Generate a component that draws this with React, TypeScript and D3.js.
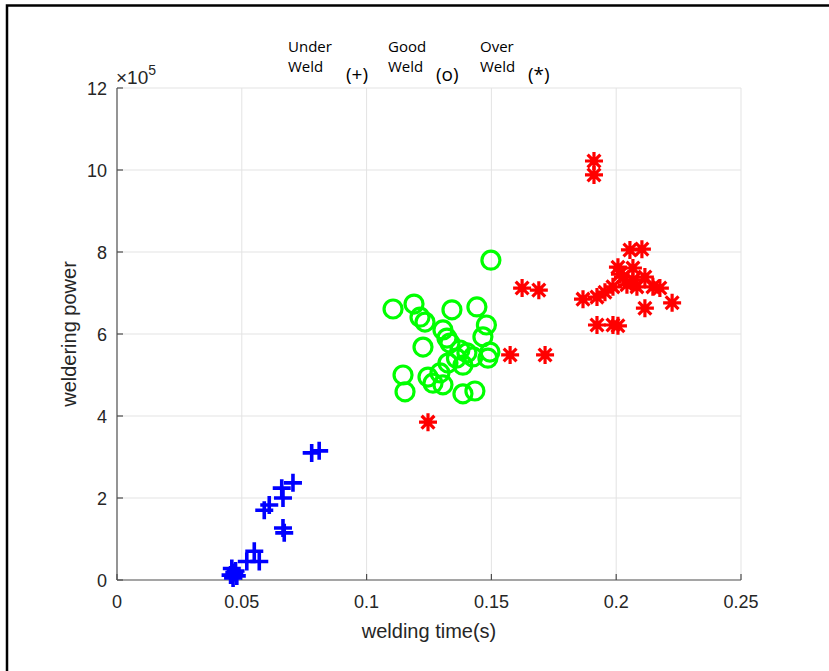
import React, { useEffect, useRef } from 'react';
import * as d3 from 'd3';

// welding time (s) / welding power (W)
const underTime = [0.0455, 0.047, 0.0465, 0.048, 0.046, 0.0475, 0.052, 0.055, 0.057, 0.059, 0.061, 0.066, 0.0665, 0.0705, 0.0665, 0.067, 0.078, 0.081];
const underPower = [0.12e5, 0.18e5, 0.05e5, 0.1e5, 0.28e5, 0.22e5, 0.45e5, 0.7e5, 0.45e5, 1.7e5, 1.83e5, 2.24e5, 2.0e5, 2.37e5, 1.27e5, 1.15e5, 3.1e5, 3.15e5];

const goodTime = [0.1498, 0.1106, 0.119, 0.1214, 0.1234, 0.1342, 0.1442, 0.148, 0.1466, 0.1494, 0.1486, 0.1226, 0.1306, 0.1322, 0.1334, 0.1374, 0.1402, 0.136, 0.1326, 0.1426, 0.1146, 0.1154, 0.1246, 0.1266, 0.1306, 0.1386, 0.1434, 0.1294, 0.1386];
const goodPower = [7.8e5, 6.61e5, 6.73e5, 6.41e5, 6.29e5, 6.59e5, 6.66e5, 6.22e5, 5.93e5, 5.56e5, 5.41e5, 5.68e5, 6.1e5, 5.9e5, 5.78e5, 5.61e5, 5.54e5, 5.41e5, 5.29e5, 5.44e5, 5.0e5, 4.59e5, 4.95e5, 4.8e5, 4.76e5, 4.54e5, 4.61e5, 5.05e5, 5.24e5];

const overTime = [0.1911, 0.1911, 0.1623, 0.169, 0.1575, 0.1715, 0.1867, 0.1923, 0.1923, 0.1987, 0.2007, 0.2055, 0.2103, 0.2007, 0.2067, 0.2027, 0.2115, 0.1987, 0.2043, 0.2147, 0.2175, 0.2083, 0.1955, 0.2115, 0.2224, 0.2067, 0.2015, 0.1246];
const overPower = [10.22e5, 9.88e5, 7.12e5, 7.07e5, 5.49e5, 5.49e5, 6.85e5, 6.9e5, 6.22e5, 6.22e5, 6.2e5, 8.05e5, 8.07e5, 7.63e5, 7.61e5, 7.39e5, 7.39e5, 7.15e5, 7.2e5, 7.15e5, 7.12e5, 7.15e5, 7.02e5, 6.63e5, 6.76e5, 7.32e5, 7.46e5, 3.85e5];

const xTicks = [0, 0.05, 0.1, 0.15, 0.2, 0.25];
const yTicks = [0, 2, 4, 6, 8, 10, 12];

const App = () => {
  const ref = useRef<SVGSVGElement>(null);

  useEffect(() => {
    const svg = d3.select(ref.current);
    svg.selectAll('*').remove();

    const left = 117, right = 741, top = 88, bottom = 580;
    const x = d3.scaleLinear().domain([0, 0.25]).range([left, right]);
    const y = d3.scaleLinear().domain([0, 12e5]).range([bottom, top]);

    // outer frame
    svg.append('rect')
      .attr('x', 7).attr('y', 5.5)
      .attr('width', 900).attr('height', 900)
      .attr('fill', 'none').attr('stroke', '#000').attr('stroke-width', 2.5);

    // grid
    const grid = svg.append('g').attr('stroke', '#e3e3e3').attr('stroke-width', 1);
    xTicks.slice(1).forEach(t => {
      grid.append('line').attr('x1', x(t)).attr('x2', x(t)).attr('y1', top).attr('y2', bottom);
    });
    yTicks.slice(1).forEach(t => {
      grid.append('line').attr('x1', left).attr('x2', right).attr('y1', y(t * 1e5)).attr('y2', y(t * 1e5));
    });

    // axes
    const ax = svg.append('g').attr('stroke', '#4d4d4d').attr('stroke-width', 1.2);
    ax.append('line').attr('x1', left).attr('x2', right).attr('y1', bottom).attr('y2', bottom);
    ax.append('line').attr('x1', left).attr('x2', left).attr('y1', top).attr('y2', bottom);
    xTicks.forEach(t => {
      ax.append('line').attr('x1', x(t)).attr('x2', x(t)).attr('y1', bottom).attr('y2', bottom - 6);
    });
    yTicks.forEach(t => {
      ax.append('line').attr('x1', left).attr('x2', left + 6).attr('y1', y(t * 1e5)).attr('y2', y(t * 1e5));
    });

    const font = '"Liberation Sans", Arial, sans-serif';
    svg.append('g').selectAll('text').data(xTicks).enter().append('text')
      .attr('x', d => x(d)).attr('y', 608)
      .attr('text-anchor', 'middle')
      .style('font-family', font).style('font-size', '18px').attr('fill', '#262626')
      .text(d => d3.format('~g')(d));
    svg.append('g').selectAll('text').data(yTicks).enter().append('text')
      .attr('x', 107).attr('y', d => y(d * 1e5) + 6.5)
      .attr('text-anchor', 'end')
      .style('font-family', font).style('font-size', '18px').attr('fill', '#262626')
      .text(d => d);

    // exponent
    const ex = svg.append('text').attr('x', 116).attr('y', 84)
      .style('font-family', font).style('font-size', '19px').attr('fill', '#262626');
    ex.append('tspan').text('×10');
    ex.append('tspan').attr('dy', -9).style('font-size', '14px').text('5');

    // axis labels
    svg.append('text').attr('x', x(0.125)).attr('y', 638)
      .attr('text-anchor', 'middle')
      .style('font-family', font).style('font-size', '20px').attr('fill', '#262626')
      .text('welding time(s)');
    svg.append('text')
      .attr('transform', 'translate(76,334) rotate(-90)')
      .attr('text-anchor', 'middle')
      .style('font-family', font).style('font-size', '20px').attr('fill', '#262626')
      .text('weldering power');

    // markers
    const plus = 'M-9,0H9M0,-9V9';
    const star = 'M-9,0H9M0,-9V9M-6.4,-6.4L6.4,6.4M-6.4,6.4L6.4,-6.4';

    svg.append('g').selectAll('path').data(d3.range(underTime.length)).enter().append('path')
      .attr('transform', i => `translate(${x(underTime[i])},${y(underPower[i])})`)
      .attr('d', plus).attr('stroke', '#0000ff').attr('stroke-width', 3.6).attr('fill', 'none');

    svg.append('g').selectAll('circle').data(d3.range(goodTime.length)).enter().append('circle')
      .attr('cx', i => x(goodTime[i])).attr('cy', i => y(goodPower[i]))
      .attr('r', 9).attr('stroke', '#00ff00').attr('stroke-width', 3.2).attr('fill', 'none');

    svg.append('g').selectAll('path').data(d3.range(overTime.length)).enter().append('path')
      .attr('transform', i => `translate(${x(overTime[i])},${y(overPower[i])})`)
      .attr('d', star).attr('stroke', '#ff0000').attr('stroke-width', 3.2).attr('fill', 'none');

    // class legend on top
    const lf = '"Open Sans", "Noto Sans", sans-serif';
    const legend = [
      { a: 'Under', b: 'Weld', s: '(+)', x0: 288, x1: 346 },
      { a: 'Good', b: 'Weld', s: '(o)', x0: 388, x1: 436 },
      { a: 'Over', b: 'Weld', s: '(*)', x0: 480, x1: 528 },
    ];
    const lg = svg.append('g').style('font-family', lf).style('font-size', '15px').attr('fill', '#000');
    legend.forEach(l => {
      lg.append('text').attr('x', l.x0).attr('y', 52).text(l.a);
      lg.append('text').attr('x', l.x0).attr('y', 72).text(l.b);
      lg.append('text').attr('x', l.x1).attr('y', 81).style('font-size', '19px').text(l.s);
    });
  }, []);

  return (
    <div style={{ position: 'absolute', left: 0, top: 0 }}>
      <svg ref={ref} width={829} height={671} style={{ display: 'block', background: '#fff' }} />
    </div>
  );
};

export default App;
